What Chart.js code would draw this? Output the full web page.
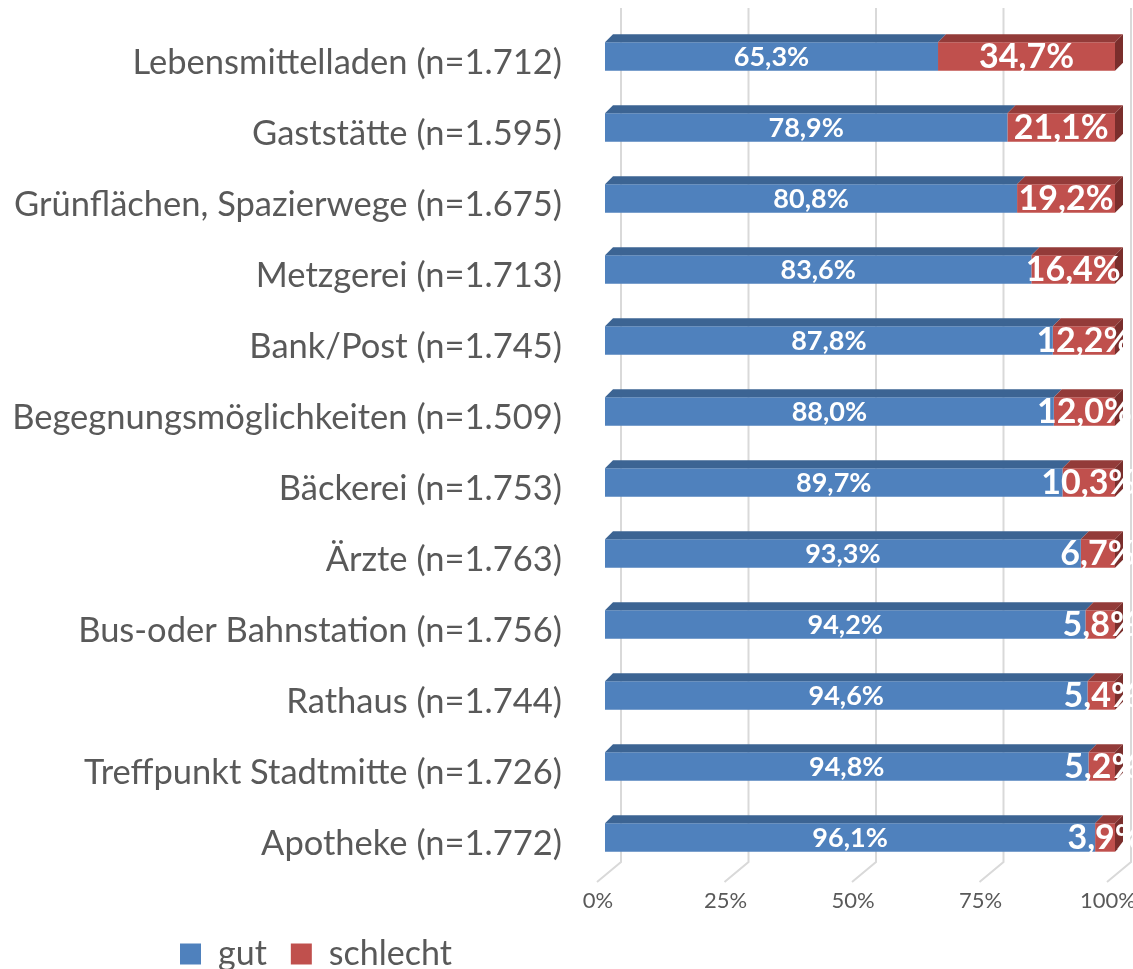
<!DOCTYPE html>
<html lang="de">
<head>
<meta charset="utf-8">
<title>Bewertung der Einrichtungen</title>
<script src="https://cdn.jsdelivr.net/npm/chart.js@4.4.1/dist/chart.umd.min.js"></script>
<style>
  html, body { margin: 0; padding: 0; background: #fff; }
  #wrap { width: 1133px; height: 969px; }
</style>
</head>
<body>
<div id="wrap"><canvas id="grafik"></canvas></div>
<script>
// --- DATEN ---
const kategorien = [
    'Lebensmittelladen (n=1.712)',
    'Gaststätte (n=1.595)',
    'Grünflächen, Spazierwege (n=1.675)',
    'Metzgerei (n=1.713)',
    'Bank/Post (n=1.745)',
    'Begegnungsmöglichkeiten (n=1.509)',
    'Bäckerei (n=1.753)',
    'Ärzte (n=1.763)',
    'Bus-oder Bahnstation (n=1.756)',
    'Rathaus (n=1.744)',
    'Treffpunkt Stadtmitte (n=1.726)',
    'Apotheke (n=1.772)'
];
const gut = [65.3, 78.9, 80.8, 83.6, 87.8, 88.0, 89.7, 93.3, 94.2, 94.6, 94.8, 96.1];
const schlecht = [34.7, 21.1, 19.2, 16.4, 12.2, 12.0, 10.3, 6.7, 5.8, 5.4, 5.2, 3.9];
const achsenWerte = [0, 25, 50, 75, 100];

// --- OPTIK ---
const SCHRIFT = 'Lato, "Open Sans", sans-serif';
const TEXTFARBE = '#595959';
const TIEFE_X = 8;   // 3D-Versatz der Balken
const TIEFE_Y = 8;
const deckFarben = ['#3C6493', '#933B39'];
const seitenFarben = ['#345884', '#7A2E2C'];

const formatProzent = (v) => v.toFixed(1).replace('.', ',') + '%';

// Gitterlinien hinten + Boden, 3D-Flächen und Beschriftungen
const plastik = {
    id: 'plastik',
    afterLayout(chart) {
        // Legende wie im Original nach rechts setzen
        const lg = chart.legend;
        const dx = 156 - lg.left;
        lg.left += dx; lg.right += dx;
        lg.top -= 5; lg.bottom -= 5;
    },
    beforeDatasetsDraw(chart) {
        const ctx = chart.ctx;
        const xs = chart.scales.x;
        const unten = chart.chartArea.bottom;
        ctx.save();
        ctx.strokeStyle = '#D9D9D9';
        ctx.lineWidth = 2;
        achsenWerte.forEach(v => {
            const vorne = xs.getPixelForValue(v) - 8;
            ctx.beginPath();
            ctx.moveTo(vorne + 24, 8);
            ctx.lineTo(vorne + 24, unten - 11);
            ctx.lineTo(vorne, unten + 9);
            ctx.stroke();
        });
        ctx.restore();
    },
    afterDatasetsDraw(chart) {
        const ctx = chart.ctx;
        ctx.save();
        chart.data.datasets.forEach((ds, di) => {
            const meta = chart.getDatasetMeta(di);
            meta.data.forEach(bar => {
                const p = bar.getProps(['x', 'y', 'base', 'height'], true);
                const oben = p.y - p.height / 2;
                const unten = p.y + p.height / 2;
                // Deckfläche
                ctx.fillStyle = deckFarben[di];
                ctx.beginPath();
                ctx.moveTo(p.base, oben);
                ctx.lineTo(p.base + TIEFE_X, oben - TIEFE_Y);
                ctx.lineTo(p.x + TIEFE_X, oben - TIEFE_Y);
                ctx.lineTo(p.x, oben);
                ctx.closePath();
                ctx.fill();
                // Seitenfläche rechts (nur letzte Serie sichtbar)
                if (di === chart.data.datasets.length - 1) {
                    ctx.fillStyle = seitenFarben[di];
                    ctx.beginPath();
                    ctx.moveTo(p.x, oben);
                    ctx.lineTo(p.x + TIEFE_X, oben - TIEFE_Y);
                    ctx.lineTo(p.x + TIEFE_X, unten - TIEFE_Y);
                    ctx.lineTo(p.x, unten);
                    ctx.closePath();
                    ctx.fill();
                }
            });
        });
        // Werte
        ctx.fillStyle = '#FFFFFF';
        ctx.textAlign = 'center';
        ctx.textBaseline = 'middle';
        chart.data.datasets.forEach((ds, di) => {
            const meta = chart.getDatasetMeta(di);
            ctx.font = di === 0 ? 'bold 27px ' + SCHRIFT : 'bold 34px ' + SCHRIFT;
            meta.data.forEach((bar, i) => {
                const p = bar.getProps(['x', 'y', 'base'], true);
                ctx.fillText(formatProzent(ds.data[i]), (p.x + p.base) / 2, p.y + 1);
            });
        });
        ctx.restore();
    }
};

const ctx = document.getElementById('grafik').getContext('2d');
const grafik = new Chart(ctx, {
    type: 'bar',
    data: {
        labels: kategorien,
        datasets: [
            { label: 'gut', data: gut, backgroundColor: '#4F81BD', borderWidth: 0,
              categoryPercentage: 0.4, barPercentage: 1 },
            { label: 'schlecht', data: schlecht, backgroundColor: '#C0504D', borderWidth: 0,
              categoryPercentage: 0.4, barPercentage: 1 }
        ]
    },
    options: {
        indexAxis: 'y',
        responsive: true,
        maintainAspectRatio: false,
        animation: false,
        layout: { padding: { left: 0, right: 18, top: 21, bottom: -17 } },
        scales: {
            x: {
                stacked: true,
                min: 0,
                max: 100,
                grid: { display: false, drawTicks: false },
                border: { display: false },
                afterBuildTicks: (scale) => { scale.ticks = achsenWerte.map(v => ({ value: v })); },
                afterFit: (scale) => { scale.height = 45; scale.paddingLeft = 0; scale.paddingRight = 0; },
                ticks: {
                    color: TEXTFARBE,
                    font: { family: SCHRIFT, size: 22 },
                    padding: 15,
                    labelOffset: -7,
                    maxRotation: 0,
                    autoSkip: false,
                    callback: (v) => v + '%'
                }
            },
            y: {
                stacked: true,
                grid: { display: false, drawTicks: false },
                border: { display: false },
                afterFit: (scale) => { scale.width = 605; scale.paddingTop = 0; scale.paddingBottom = 0; },
                ticks: {
                    color: TEXTFARBE,
                    font: { family: SCHRIFT, size: 34.5 },
                    padding: 43,
                    labelOffset: 6,
                    autoSkip: false
                }
            }
        },
        plugins: {
            legend: {
                position: 'bottom',
                align: 'start',
                labels: {
                    color: TEXTFARBE,
                    font: { family: SCHRIFT, size: 34 },
                    boxWidth: 21,
                    boxHeight: 21,
                    padding: 24
                }
            },
            tooltip: { enabled: false }
        }
    },
    plugins: [plastik]
});
</script>
</body>
</html>
